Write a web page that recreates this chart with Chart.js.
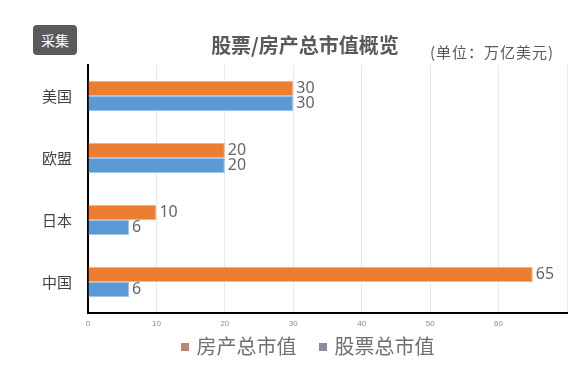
<!DOCTYPE html>
<html>
<head>
<meta charset="utf-8">
<script src="https://cdn.jsdelivr.net/npm/chart.js@4"></script>
<style>
    body { margin: 0; background: #fff; font-family: "Noto Sans CJK SC", "Noto Sans", sans-serif; }
    #wrap { position: relative; width: 581px; height: 365px; }
    #badge {
        position: absolute; left: 33px; top: 25px; width: 44px; height: 30px;
        background: #5a5a5a; color: #fff; border-radius: 4px;
        font-size: 14px; line-height: 30px; text-align: center;
    }
    #title {
        position: absolute; left: 180px; top: 30px; width: 250px; text-align: center;
        font-size: 20px; color: #595959; font-weight: bold;
    }
    #unit {
        position: absolute; left: 430px; top: 41px; font-size: 15px; color: #595959;
        letter-spacing: 1px;
    }
    #legend {
        position: absolute; left: 0; top: 331px; width: 581px; text-align: center;
        font-size: 20px; color: #707070; padding-left: 34px; box-sizing: border-box;
    }
    #legend span.item { margin: 0 11px; }
    #legend i {
        display: inline-block; width: 8px; height: 8px; margin-right: 8px;
        vertical-align: middle; position: relative; top: -2px;
    }
</style>
</head>
<body>
<div id="wrap">
    <canvas id="chart" width="581" height="365"></canvas>
    <div id="badge">采集</div>
    <div id="title">股票/房产总市值概览</div>
    <div id="unit">(单位：万亿美元)</div>
    <div id="legend"></div>
</div>
<script>
// Chart data
const categories = ['美国', '欧盟', '日本', '中国'];
const housingValues = [30, 20, 10, 65];
const stockValues = [30, 20, 6, 6];
const seriesNames = ['房产总市值', '股票总市值'];
const xTicks = [0, 10, 20, 30, 40, 50, 60];

const legendColors = ['#bd8670', '#8a8e9c'];

// Draw the value next to the end of each bar
const valueLabels = {
    id: 'valueLabels',
    afterDatasetsDraw(chart) {
        const ctx = chart.ctx;
        ctx.save();
        ctx.font = '16px "Noto Sans", sans-serif';
        ctx.fillStyle = '#666';
        ctx.textAlign = 'left';
        ctx.textBaseline = 'middle';
        chart.data.datasets.forEach(function(ds, i) {
            chart.getDatasetMeta(i).data.forEach(function(bar, j) {
                ctx.fillText(ds.data[j], bar.x + 3, bar.y);
            });
        });
        ctx.restore();
    }
};

// Simple html legend below the chart
document.getElementById('legend').innerHTML = seriesNames.map(function(name, i) {
    return '<span class="item"><i style="background:' + legendColors[i] + '"></i>' + name + '</span>';
}).join('');

new Chart(document.getElementById('chart'), {
    type: 'bar',
    data: {
        labels: categories,
        datasets: [{
            label: seriesNames[0],
            data: housingValues,
            backgroundColor: '#ED7D31',
            borderColor: '#F4B183',
            borderWidth: 1
        }, {
            label: seriesNames[1],
            data: stockValues,
            backgroundColor: '#5B9BD5',
            borderColor: '#9DC3E6',
            borderWidth: 1
        }]
    },
    options: {
        indexAxis: 'y',
        responsive: false,
        animation: false,
        datasets: { bar: { barPercentage: 1, categoryPercentage: 0.48 } },
        layout: { padding: { top: 65, right: 14, bottom: 32, left: 0 } },
        scales: {
            x: {
                min: 0,
                max: 70,
                afterBuildTicks: function(scale) {
                    scale.ticks = xTicks.concat([70]).map(v => ({ value: v }));
                },
                afterFit: function(scale) { scale.height = 20; },
                ticks: {
                    color: '#8c8c8c',
                    font: { size: 8 },
                    padding: 6,
                    callback: v => xTicks.includes(v) ? v : ''
                },
                grid: { color: '#e8e8e8', drawTicks: false },
                border: { color: '#000', width: 2 }
            },
            y: {
                afterFit: function(scale) { scale.width = 88; },
                ticks: {
                    color: '#404040',
                    font: { size: 15, family: '"Noto Sans CJK SC"' },
                    padding: 16
                },
                grid: { display: false, drawTicks: false },
                border: { color: '#000', width: 2 }
            }
        },
        plugins: {
            legend: { display: false },
            tooltip: { enabled: false }
        }
    },
    plugins: [valueLabels]
});
</script>
</body>
</html>
